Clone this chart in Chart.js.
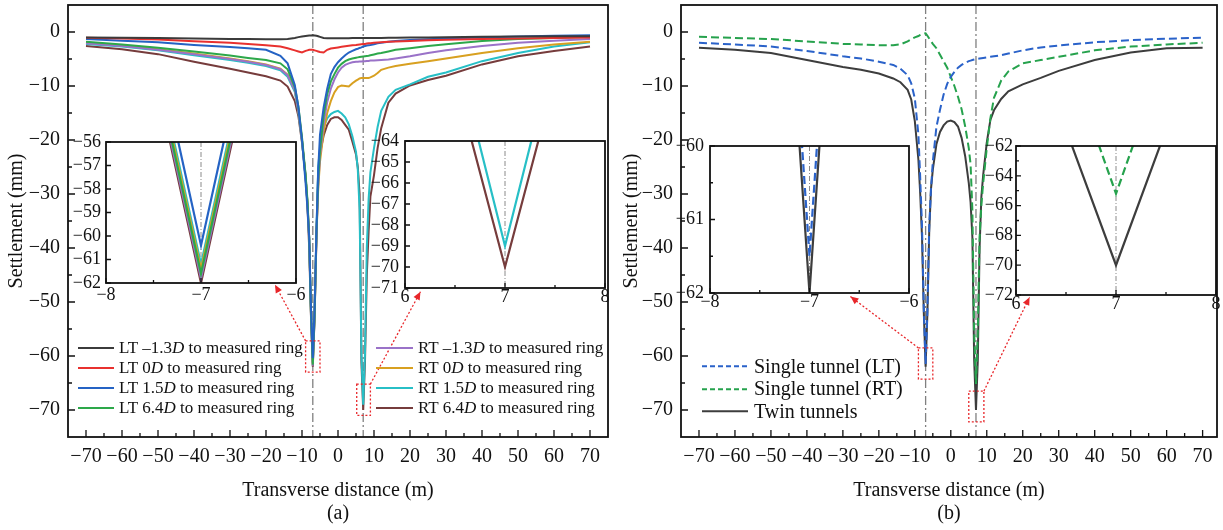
<!DOCTYPE html>
<html>
<head>
<meta charset="utf-8">
<title>Surface settlement troughs</title>
<script src="https://cdn.jsdelivr.net/npm/chart.js@4.4.1/dist/chart.umd.min.js"></script>
<style>
  html, body { margin: 0; padding: 0; background: #fff; }
  body { position: relative; width: 1223px; height: 530px; overflow: hidden;
         font-family: 'Liberation Serif', 'Times New Roman', serif; color: #111; }
  canvas { position: absolute; display: block; }
  .legend { position: absolute; }
  .legend .row { display: flex; align-items: center; white-space: nowrap; }
  .legend svg { display: block; flex: none; }
</style>
</head>
<body>
<canvas id="mainA" width="620" height="530" style="left:0;top:0"></canvas>
<canvas id="mainB" width="603" height="530" style="left:620px;top:0"></canvas>
<script>
const SERIF = "'Liberation Serif', 'Times New Roman', serif";
Chart.defaults.font.family = SERIF;
Chart.defaults.color = '#111';

// transverse distance (m), shared by every curve
const xDist = [
  -70, -60, -50, -40, -30, -25, -20, -16, -14, -12,
  -11, -10, -9, -8.5, -8, -7.5, -7, -6.5, -6, -5.5,
  -5, -4, -3, -2, -1, 0, 1, 2, 3, 4,
  5, 5.5, 6, 6.5, 7, 7.5, 8, 8.5, 9, 10,
  11, 12, 14, 16, 20, 25, 30, 40, 50, 60,
  70
];

// (a) settlement (mm) for each face position
const ltMinus13 = [
  -1.0, -1.05, -1.1, -1.2, -1.3, -1.3, -1.35, -1.35, -1.3, -1.1,
  -0.95, -0.85, -0.75, -0.7, -0.65, -0.65, -0.6, -0.65, -0.7, -0.8,
  -0.9, -1.1, -1.15, -1.15, -1.15, -1.15, -1.15, -1.15, -1.15, -1.1,
  -1.1, -1.1, -1.1, -1.1, -1.1, -1.1, -1.1, -1.1, -1.1, -1.1,
  -1.1, -1.1, -1.05, -1.05, -1.0, -1.0, -0.95, -0.9, -0.85, -0.8,
  -0.8
];
const lt0 = [
  -1.05, -1.2, -1.4, -1.7, -2.0, -2.2, -2.45, -2.7, -3.0, -3.4,
  -3.6, -3.8, -3.5, -3.4, -3.3, -3.3, -3.3, -3.4, -3.5, -3.6,
  -3.7, -3.8, -3.3, -3.05, -2.95, -2.85, -2.75, -2.65, -2.55, -2.45,
  -2.4, -2.35, -2.3, -2.25, -2.2, -2.2, -2.15, -2.1, -2.1, -2.0,
  -1.95, -1.9, -1.8, -1.75, -1.65, -1.55, -1.45, -1.3, -1.2, -1.1,
  -1.0
];
const lt15 = [
  -1.3, -1.6, -1.9, -2.4, -2.8, -3.0, -3.3, -4.4, -5.8, -9.8,
  -13.9, -20, -28, -32.5, -38, -51.2, -60.4, -51.2, -37, -25.5,
  -19, -14, -10.5, -7.8, -6.5, -5.6, -4.9, -4.3, -3.8, -3.5,
  -3.2, -3.1, -2.95, -2.85, -2.7, -2.6, -2.5, -2.45, -2.4, -2.25,
  -2.1, -2.0, -1.8, -1.65, -1.5, -1.35, -1.2, -1.0, -0.85, -0.7,
  -0.6
];
const lt64 = [
  -1.8, -2.3, -2.9, -3.6, -4.35, -4.8, -5.2, -5.8, -6.9, -10.2,
  -13.8, -19.5, -26.5, -31, -38, -52.4, -61.6, -52.4, -37.5, -27.5,
  -22, -15.5, -11.5, -9.2, -7.8, -6.6, -5.9, -5.4, -5.1, -4.9,
  -4.75, -4.7, -4.65, -4.6, -4.55, -4.5, -4.45, -4.4, -4.3, -4.15,
  -4.0, -3.9, -3.6, -3.3, -3.0, -2.6, -2.25, -1.65, -1.3, -1.1,
  -0.9
];
const rtMinus13 = [
  -2.1, -2.6, -3.3, -4.1, -5.0, -5.5, -6.1, -6.9, -8.0, -10.8,
  -14.5, -20, -27, -31.5, -38.5, -52.6, -61.8, -52.6, -38, -28.5,
  -23, -17, -13, -10.5, -8.8, -7.5, -6.6, -6.1, -5.8, -5.6,
  -5.5, -5.5, -5.45, -5.45, -5.4, -5.4, -5.35, -5.35, -5.3, -5.3,
  -5.25, -5.2, -5.1, -4.9, -4.5, -3.9, -3.4, -2.6, -2.0, -1.6,
  -1.3
];
const rt0 = [
  -2.0, -2.5, -3.2, -4.0, -4.9, -5.4, -6.0, -6.8, -7.9, -10.7,
  -14.4, -20, -27, -31.5, -38.3, -52.2, -61.4, -52.2, -38, -29,
  -24, -18.5, -15, -12.8, -11.2, -10.2, -9.9, -10.0, -10.1, -9.5,
  -9.0, -8.8, -8.6, -8.5, -8.5, -8.5, -8.5, -8.5, -8.4, -8.1,
  -7.6, -7.0, -6.6, -6.3, -5.9, -5.4, -4.9, -3.9, -3.0, -2.3,
  -1.8
];
const rt15 = [
  -2.2, -2.7, -3.4, -4.3, -5.2, -5.7, -6.3, -7.1, -8.3, -11.1,
  -14.8, -20.2, -27, -31.5, -38.5, -52, -61.2, -52, -37.5, -25,
  -21.5, -17.6, -16.0, -15.2, -14.8, -14.6, -15.1, -15.8, -17.1, -19.3,
  -22.2, -25.5, -33, -59.5, -69, -59.5, -40, -31, -26, -21.5,
  -17.6, -14.6, -12.0, -10.7, -9.7, -8.3, -7.5, -5.4, -3.9, -2.7,
  -1.9
];
const rt64 = [
  -2.6, -3.2, -4.1, -5.5, -6.8, -7.5, -8.2, -9.0, -10.1, -12.8,
  -15.6, -20.5, -26.5, -32, -40, -52.8, -62, -52.8, -38.5, -26,
  -22.5, -19.2, -17.2, -16.1, -15.8, -15.8, -16.3, -17.2, -18.1, -20.3,
  -22.7, -25.0, -30, -61, -70, -61, -45, -37, -30.5, -26.5,
  -21.5, -17.8, -13.1, -11.4, -9.9, -8.9, -8.1, -6.0, -4.5, -3.5,
  -2.7
];

// (b) single tunnel vs twin tunnels
const singleLT = [
  -2.0, -2.3, -2.7, -3.5, -4.5, -4.9, -5.5, -6.1, -6.8, -8.0,
  -9.5, -12.3, -19, -27, -36, -51.5, -61.5, -51.5, -36, -29,
  -24, -17.6, -14.4, -11.6, -9.6, -8.3, -7.4, -6.6, -6.1, -5.7,
  -5.4, -5.3, -5.2, -5.1, -5.0, -4.95, -4.9, -4.85, -4.8, -4.7,
  -4.6, -4.5, -4.3, -4.0, -3.4, -2.85, -2.5, -1.9, -1.5, -1.25,
  -1.05
];
const singleRT = [
  -0.9, -1.1, -1.3, -1.75, -2.2, -2.3, -2.45, -2.45, -2.3, -1.75,
  -1.35, -1.0, -0.75, -0.55, -0.4, -0.3, -0.25, -0.7, -1.2, -1.7,
  -2.2, -3.0, -4.2, -5.4, -6.6, -8.3, -10.0, -12.0, -14.3, -17.5,
  -21.5, -24.5, -33, -55.7, -65.2, -55.7, -38, -32, -28, -21.5,
  -16, -12.2, -9, -7.3, -5.8, -5.2, -4.6, -3.4, -2.7, -2.3,
  -2.0
];
const twinTunnels = [
  -2.9, -3.3, -3.9, -5.2, -6.5, -7.0, -7.7, -8.6, -9.3, -10.7,
  -12.5, -16.5, -23.7, -30, -38, -52, -62, -52, -37, -29,
  -25.5, -20.8, -18.5, -17.3, -16.6, -16.4, -16.7, -17.5, -19.6, -23,
  -28, -31.5, -38, -60.9, -70, -60.9, -40, -30.5, -26.5, -20.5,
  -16.3, -14.5, -12.4, -11.0, -9.7, -8.5, -7.2, -5.2, -3.8, -3.0,
  -2.9
];

// tunnel centrelines (m)
const tunnelX = [-7, 7];

// tick values
const mainXTicks = [-70, -60, -50, -40, -30, -20, -10, 0, 10, 20, 30, 40, 50, 60, 70];
const mainYTicks = [0, -10, -20, -30, -40, -50, -60, -70];
const insetLeftXTicks = [-8, -7, -6];
const insetRightXTicks = [6, 7, 8];
const insetALTicks = [-56, -57, -58, -59, -60, -61, -62];
const insetARTicks = [-64, -65, -66, -67, -68, -69, -70, -71];
const insetBLTicks = [-60, -61, -62];
const insetBRTicks = [-62, -64, -66, -68, -70, -72];

const seriesA = [
  { label: 'LT –1.3D to measured ring', values: ltMinus13, color: '#3b3b3b' },
  { label: 'LT 0D to measured ring', values: lt0, color: '#e8312f' },
  { label: 'LT 1.5D to measured ring', values: lt15, color: '#2563c4' },
  { label: 'LT 6.4D to measured ring', values: lt64, color: '#2da84a' },
  { label: 'RT –1.3D to measured ring', values: rtMinus13, color: '#9a72c8' },
  { label: 'RT 0D to measured ring', values: rt0, color: '#d8a020' },
  { label: 'RT 1.5D to measured ring', values: rt15, color: '#27bfc6' },
  { label: 'RT 6.4D to measured ring', values: rt64, color: '#763c3c' }
];
const seriesB = [
  { label: 'Single tunnel (LT)', values: singleLT, color: '#2a62c9', dash: [8, 4] },
  { label: 'Single tunnel (RT)', values: singleRT, color: '#26a24d', dash: [8, 4] },
  { label: 'Twin tunnels', values: twinTunnels, color: '#3d3d3d' }
];

const minus = v => String(v).replace('-', '\u2212');
const midpoints = arr => arr.slice(1).map((v, i) => (v + arr[i]) / 2);

function toDatasets(series, width) {
  return series.map(s => ({
    label: s.label,
    data: xDist.map((x, i) => ({ x: x, y: s.values[i] })),
    borderColor: s.color,
    borderWidth: width,
    borderDash: s.dash || [],
    pointRadius: 0,
    tension: 0,
    clip: 0
  }));
}

function drawArrow(ctx, x0, y0, x1, y1) {
  ctx.beginPath();
  ctx.moveTo(x0, y0);
  ctx.lineTo(x1, y1);
  ctx.stroke();
  const ang = Math.atan2(y1 - y0, x1 - x0), L = 8, W = 3.5;
  const c = Math.cos(ang), s = Math.sin(ang);
  ctx.beginPath();
  ctx.moveTo(x1, y1);
  ctx.lineTo(x1 - L * c + W * s, y1 - L * s - W * c);
  ctx.lineTo(x1 - L * c - W * s, y1 - L * s + W * c);
  ctx.closePath();
  ctx.fill();
}

// frame, inward ticks, tunnel centrelines and zoom call-outs
function framePlugin(cfg) {
  return {
    id: 'frame',
    beforeDraw(chart) {
      if (!cfg.fill) return;
      const a = chart.chartArea, ctx = chart.ctx;
      ctx.save();
      ctx.fillStyle = '#fff';
      ctx.fillRect(a.left, a.top, a.right - a.left, a.bottom - a.top);
      ctx.restore();
    },
    beforeDatasetsDraw(chart) {
      const { ctx, chartArea: a, scales: { x } } = chart;
      ctx.save();
      ctx.strokeStyle = cfg.axisColor;
      ctx.lineWidth = cfg.axisWidth;
      ctx.setLineDash(cfg.axisDash);
      tunnelX.forEach(t => {
        if (t < x.min || t > x.max) return;
        const px = x.getPixelForValue(t);
        ctx.beginPath();
        ctx.moveTo(px, a.top);
        ctx.lineTo(px, a.bottom);
        ctx.stroke();
      });
      ctx.restore();
    },
    afterDatasetsDraw(chart) {
      const { ctx, chartArea: a, scales: { x, y } } = chart;
      const xt = x.ticks.map(t => t.value), yt = y.ticks.map(t => t.value);
      ctx.save();
      ctx.strokeStyle = '#111';
      ctx.lineWidth = 1.3;
      ctx.beginPath();
      xt.forEach(v => { const p = x.getPixelForValue(v); ctx.moveTo(p, a.bottom); ctx.lineTo(p, a.bottom - cfg.major); });
      yt.forEach(v => { const p = y.getPixelForValue(v); ctx.moveTo(a.left, p); ctx.lineTo(a.left + cfg.major, p); });
      midpoints(xt).forEach(v => { const p = x.getPixelForValue(v); ctx.moveTo(p, a.bottom); ctx.lineTo(p, a.bottom - cfg.minor); });
      if (cfg.yMinor) {
        midpoints(yt).forEach(v => { const p = y.getPixelForValue(v); ctx.moveTo(a.left, p); ctx.lineTo(a.left + cfg.minor, p); });
      }
      ctx.stroke();
      ctx.lineWidth = cfg.frameWidth;
      ctx.strokeRect(a.left, a.top, a.right - a.left, a.bottom - a.top);

      (cfg.callouts || []).forEach(c => {
        const bx0 = x.getPixelForValue(c.box[0]), bx1 = x.getPixelForValue(c.box[1]);
        const by0 = y.getPixelForValue(c.box[2]), by1 = y.getPixelForValue(c.box[3]);
        ctx.strokeStyle = '#e8262a';
        ctx.fillStyle = '#e8262a';
        ctx.lineWidth = 1.3;
        ctx.setLineDash([2, 2]);
        ctx.strokeRect(bx0, by0, bx1 - bx0, by1 - by0);
        const sx = c.corner === 'tl' ? bx0 : bx1;
        drawArrow(ctx, sx, by0, x.getPixelForValue(c.to[0]), y.getPixelForValue(c.to[1]));
        ctx.setLineDash([]);
      });
      ctx.restore();
    }
  };
}

function axisOptions(a, dir) {
  return {
    type: 'linear',
    position: dir === 'x' ? 'bottom' : 'left',
    min: a.min,
    max: a.max,
    afterBuildTicks: s => { s.ticks = a.ticks.map(v => ({ value: v })); },
    afterFit: s => {
      if (dir === 'x') s.height = a.size; else s.width = a.size;
      s.paddingLeft = 0; s.paddingRight = 0; s.paddingTop = 0; s.paddingBottom = 0;
    },
    grid: { display: false, drawTicks: false },
    border: { display: false },
    ticks: {
      autoSkip: false, maxRotation: 0, minRotation: 0,
      padding: a.pad,
      font: { size: a.font, lineHeight: a.lh || 1.2 },
      color: '#111',
      callback: v => minus(v)
    },
    title: a.title || { display: false }
  };
}

function buildChart(canvas, o) {
  return new Chart(canvas, {
    type: 'line',
    data: { datasets: toDatasets(o.series, o.lineWidth) },
    options: {
      responsive: false,
      animation: false,
      events: [],
      layout: { padding: { left: 0, top: o.top, right: o.right, bottom: 0 } },
      plugins: { legend: { display: false }, tooltip: { enabled: false } },
      scales: { x: axisOptions(o.x, 'x'), y: axisOptions(o.y, 'y') }
    },
    plugins: [framePlugin(o.frame)]
  });
}

const mainFrame = {
  major: 7, minor: 4, yMinor: true, frameWidth: 1.8,
  axisColor: '#808080', axisWidth: 1.3, axisDash: [9, 3, 2, 3]
};

// panel (a)
buildChart(document.getElementById('mainA'), {
  series: seriesA, lineWidth: 2, top: 5, right: 12,
  x: { min: -75, max: 75, ticks: mainXTicks, size: 93, pad: 8, font: 20,
       title: { display: true, text: ['Transverse distance (m)', '(a)'], color: '#111',
                font: { size: 20, lineHeight: 1.15 }, padding: { top: 0, bottom: 5 } } },
  y: { min: -75, max: 5, ticks: mainYTicks, size: 68, pad: 8, font: 20,
       title: { display: true, text: 'Settlement (mm)', color: '#111',
                font: { size: 20, lineHeight: 1.2 }, padding: { top: 5, bottom: 0 } } },
  frame: Object.assign({}, mainFrame, {
    callouts: [
      { box: [-9, -5, -57.2, -63], corner: 'tl', to: [-17.5, -46.8] },
      { box: [5.2, 9, -65.2, -71], corner: 'tr', to: [22.9, -48.1] }
    ]
  })
});

// panel (b)
buildChart(document.getElementById('mainB'), {
  series: seriesB, lineWidth: 2, top: 5, right: 6,
  x: { min: -75, max: 74, ticks: mainXTicks, size: 93, pad: 8, font: 20,
       title: { display: true, text: ['Transverse distance (m)', '(b)'], color: '#111',
                font: { size: 20, lineHeight: 1.15 }, padding: { top: 0, bottom: 5 } } },
  y: { min: -75, max: 5, ticks: mainYTicks, size: 61, pad: 8, font: 20,
       title: { display: true, text: 'Settlement (mm)', color: '#111',
                font: { size: 20, lineHeight: 1.2 }, padding: { top: 0, bottom: 0 } } },
  frame: Object.assign({}, mainFrame, {
    callouts: [
      { box: [-9, -5, -58.5, -64.3], corner: 'tl', to: [-27.9, -49.0] },
      { box: [5, 9.2, -66.5, -72.2], corner: 'tr', to: [21.9, -49.1] }
    ]
  })
});

// zoomed insets; area = plot box in page pixels
function inset(area, o) {
  const yW = 40, xH = 24, top = 10, right = 16;
  const cv = document.createElement('canvas');
  cv.width = area.r - area.l + yW + right;
  cv.height = area.b - area.t + top + xH;
  cv.style.left = (area.l - yW) + 'px';
  cv.style.top = (area.t - top) + 'px';
  document.body.appendChild(cv);
  buildChart(cv, {
    series: o.series, lineWidth: o.lineWidth, top: top, right: right,
    x: { min: o.xTicks[0], max: o.xTicks[o.xTicks.length - 1], ticks: o.xTicks, size: xH,
         pad: o.xPad, font: 18, lh: 1 },
    y: { min: Math.min(...o.yTicks), max: Math.max(...o.yTicks), ticks: o.yTicks, size: yW,
         pad: o.yPad, font: 18, lh: 1 },
    frame: { major: 5, minor: 3, yMinor: o.yMinor, frameWidth: 1.8, fill: true,
             axisColor: '#8a8a8a', axisWidth: 1, axisDash: [5, 2, 1, 2] }
  });
}

inset({ l: 106, t: 142, r: 296, b: 283 },
      { series: seriesA, lineWidth: 2.2, xTicks: insetLeftXTicks, yTicks: insetALTicks, xPad: 3, yPad: 5, yMinor: false });
inset({ l: 405, t: 141, r: 605, b: 288 },
      { series: seriesA, lineWidth: 2.2, xTicks: insetRightXTicks, yTicks: insetARTicks, xPad: 0, yPad: 6, yMinor: false });
inset({ l: 710, t: 146, r: 909, b: 293 },
      { series: seriesB, lineWidth: 2.2, xTicks: insetLeftXTicks, yTicks: insetBLTicks, xPad: 0, yPad: 6, yMinor: true });
inset({ l: 1016, t: 146, r: 1216, b: 295 },
      { series: seriesB, lineWidth: 2.2, xTicks: insetRightXTicks, yTicks: insetBRTicks, xPad: 0, yPad: 3, yMinor: true });

// HTML legends (italic D)
function legend(left, top, rowH, fontSize, sampleW, gap, items) {
  const box = document.createElement('div');
  box.className = 'legend';
  box.style.left = left + 'px';
  box.style.top = top + 'px';
  box.style.fontSize = fontSize + 'px';
  items.forEach(s => {
    const row = document.createElement('div');
    row.className = 'row';
    row.style.height = rowH + 'px';
    const dash = s.dash ? ' stroke-dasharray="5 3"' : '';
    row.innerHTML =
      '<svg width="' + sampleW + '" height="' + rowH + '"><line x1="0" x2="' + sampleW +
      '" y1="' + rowH / 2 + '" y2="' + rowH / 2 + '" stroke="' + s.color + '" stroke-width="2.2"' + dash + '/></svg>' +
      '<span style="margin-left:' + gap + 'px">' + s.label.replace(/(\d)D\b/, '$1<i>D</i>') + '</span>';
    box.appendChild(row);
  });
  document.body.appendChild(box);
}

legend(78, 338, 20, 17, 36, 5, seriesA.slice(0, 4));
legend(376, 338, 20, 17, 37, 5, seriesA.slice(4));
legend(702, 355, 22.5, 20, 46, 6, seriesB);
</script>
</body>
</html>
